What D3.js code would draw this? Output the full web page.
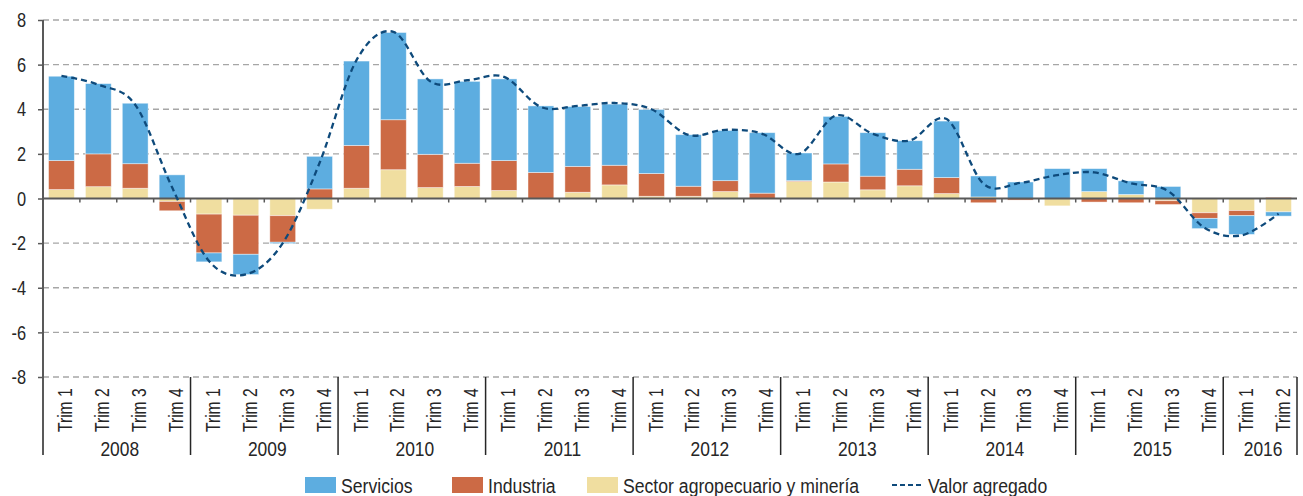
<!DOCTYPE html>
<html>
<head>
<meta charset="utf-8">
<script src="https://cdn.jsdelivr.net/npm/d3@7"></script>
<style>
  body { margin: 0; background: #fff; }
  svg text { font-family: 'Liberation Sans Narrow', 'Arial Narrow', 'Liberation Sans', sans-serif; fill: #262626; }
</style>
</head>
<body>
<div id="chart"></div>
<script>
const years = ["2008", "2009", "2010", "2011", "2012", "2013", "2014", "2015", "2016"];
const quarterLabels = ["Trim 1", "Trim 2", "Trim 3", "Trim 4"];

const servicios = [3.78, 3.15, 2.71, 1.06, -0.40, -0.91, -0.06, 1.46,
                   3.78, 3.91, 3.38, 3.67, 3.66, 2.98, 2.68, 2.74,
                   2.87, 2.31, 2.25, 2.71, 1.24, 2.13, 1.95, 1.28,
                   2.53, 0.94, 0.74, 1.34, 1.03, 0.61, 0.54, -0.46,
                   -0.84, -0.19];
const industria = [1.30, 1.47, 1.10, -0.42, -1.74, -1.75, -1.19, 0.43,
                   1.92, 2.24, 1.49, 1.04, 1.34, 1.17, 1.16, 0.88,
                   1.02, 0.45, 0.49, 0.24, 0.04, 0.81, 0.61, 0.74,
                   0.72, -0.19, -0.07, 0.00, -0.16, -0.19, -0.17, -0.25,
                   -0.23, 0.05];
const agro = [0.40, 0.53, 0.46, -0.13, -0.70, -0.75, -0.77, -0.48,
              0.46, 1.29, 0.49, 0.54, 0.36, 0.00, 0.28, 0.61,
              0.10, 0.10, 0.31, 0.00, 0.76, 0.74, 0.39, 0.57,
              0.22, 0.07, 0.00, -0.33, 0.31, 0.18, -0.10, -0.64,
              -0.54, -0.60];
const valorAgregado = [5.50, 5.10, 4.20, 0.50, -2.80, -3.40, -2.00, 1.60,
                       6.20, 7.47, 5.25, 5.30, 5.45, 4.10, 4.15, 4.28,
                       4.00, 2.85, 3.08, 2.90, 2.00, 3.72, 2.90, 2.60,
                       3.56, 0.66, 0.70, 1.05, 1.17, 0.68, 0.34, -1.32,
                       -1.65, -0.68];
const yTicks = [-8, -6, -4, -2, 0, 2, 4, 6, 8];

const seriesKeys = ["agro", "industria", "servicios"];
const seriesNames = { servicios: "Servicios", industria: "Industria", agro: "Sector agropecuario y minería" };
const colors = { servicios: "#5dade0", industria: "#cc6a45", agro: "#f0dea0" };
const lineColor = "#0e4a7b";

const data = servicios.map((v, i) => ({
    id: i,
    year: years[Math.floor(i / 4)],
    quarter: quarterLabels[i % 4],
    servicios: v,
    industria: industria[i],
    agro: agro[i],
    total: valorAgregado[i]
}));

const width = 1303, height = 496;
const margin = { top: 20, right: 6, bottom: 119, left: 43 };

const svg = d3.select("#chart").append("svg")
    .attr("width", width)
    .attr("height", height);

const x = d3.scaleBand()
    .domain(data.map(d => d.id))
    .range([margin.left, width - margin.right])
    .paddingInner(0.3)
    .paddingOuter(0.15);

const y = d3.scaleLinear()
    .domain([-8, 8])
    .range([height - margin.bottom, margin.top]);

const step = x.step();
const x0 = margin.left, x1 = width - margin.right;

// grid lines
svg.append("g")
    .selectAll("line")
    .data(yTicks.filter(t => t !== 0))
    .enter().append("line")
    .attr("x1", x0)
    .attr("x2", x1)
    .attr("y1", d => y(d))
    .attr("y2", d => y(d))
    .attr("stroke", "#a6a6a6")
    .attr("stroke-width", 1.3)
    .attr("stroke-dasharray", "6,4");

// stacked bars
const stacked = d3.stack().keys(seriesKeys).offset(d3.stackOffsetDiverging)(data);

svg.append("g")
    .selectAll("g")
    .data(stacked)
    .enter().append("g")
    .attr("fill", d => colors[d.key])
    .selectAll("rect")
    .data(d => d)
    .enter().append("rect")
    .attr("x", d => x(d.data.id))
    .attr("y", d => y(Math.max(d[0], d[1])))
    .attr("height", d => Math.abs(y(d[0]) - y(d[1])))
    .attr("width", x.bandwidth())
    .attr("stroke", "rgba(255,255,255,0.55)")
    .attr("stroke-width", 0.8);

// y axis (labels drawn condensed)
const yAxis = svg.append("g")
    .attr("transform", `translate(${x0},0)`)
    .call(d3.axisLeft(y).tickValues(yTicks).tickSize(5).tickFormat(""));
yAxis.select(".domain").remove();
yAxis.selectAll("line").attr("stroke", "#595959").attr("stroke-width", 1.5);

svg.append("g")
    .selectAll("text")
    .data(yTicks)
    .enter().append("text")
    .attr("transform", d => `translate(26,${y(d)}) scale(0.82,1)`)
    .attr("text-anchor", "end")
    .attr("dy", "0.36em")
    .style("font-size", "20px")
    .text(d => String(d));

svg.append("line")
    .attr("x1", x0).attr("x2", x0)
    .attr("y1", margin.top).attr("y2", 455)
    .attr("stroke", "#595959")
    .attr("stroke-width", 2);

// zero line with category ticks
svg.append("line")
    .attr("x1", x0).attr("x2", x1)
    .attr("y1", y(0)).attr("y2", y(0))
    .attr("stroke", "#595959")
    .attr("stroke-width", 2);

svg.append("g")
    .selectAll("line")
    .data(data.slice(1))
    .enter().append("line")
    .attr("x1", d => x(d.id) - step * 0.15)
    .attr("x2", d => x(d.id) - step * 0.15)
    .attr("y1", y(0))
    .attr("y2", y(0) + 4)
    .attr("stroke", "#595959")
    .attr("stroke-width", 1.5);

// valor agregado line
const line = d3.line()
    .x(d => x(d.id) + x.bandwidth() / 2)
    .y(d => y(d.total))
    .curve(d3.curveCardinal.tension(0));

svg.append("path")
    .datum(data)
    .attr("fill", "none")
    .attr("stroke", lineColor)
    .attr("stroke-width", 2.3)
    .attr("stroke-dasharray", "6,4")
    .attr("d", line);

// quarter labels
svg.append("g")
    .selectAll("text")
    .data(data)
    .enter().append("text")
    .attr("transform", d => `translate(${x(d.id) + x.bandwidth() / 2 + 11},432) rotate(-90) scale(0.78,1)`)
    .style("font-size", "20px")
    .text(d => d.quarter);

// year separators and labels
const yearBounds = years.map((yr, i) => {
    const first = i * 4;
    const last = Math.min(first + 3, data.length - 1);
    return { year: yr, left: x(first) - step * 0.15, right: x(last) + x.bandwidth() + step * 0.15 };
});

svg.append("g")
    .selectAll("line")
    .data(yearBounds)
    .enter().append("line")
    .attr("x1", d => d.right)
    .attr("x2", d => d.right)
    .attr("y1", y(-8))
    .attr("y2", 455)
    .attr("stroke", "#262626")
    .attr("stroke-width", 1.5);

svg.append("g")
    .selectAll("text")
    .data(yearBounds)
    .enter().append("text")
    .attr("transform", d => `translate(${(d.left + d.right) / 2 + 3},456) scale(0.87,1)`)
    .attr("text-anchor", "middle")
    .style("font-size", "20px")
    .text(d => d.year);

// legend
const legendItems = [
    { key: "servicios", x: 305 },
    { key: "industria", x: 452 },
    { key: "agro", x: 587 },
    { key: "line", x: 892 }
];

const legend = svg.append("g");
legendItems.forEach(item => {
    if (item.key === "line") {
        legend.append("line")
            .attr("x1", item.x).attr("x2", item.x + 31)
            .attr("y1", 485).attr("y2", 485)
            .attr("stroke", lineColor)
            .attr("stroke-width", 2.2)
            .attr("stroke-dasharray", "5,3");
    } else {
        legend.append("rect")
            .attr("x", item.x).attr("y", 477)
            .attr("width", 31).attr("height", 16)
            .attr("fill", colors[item.key]);
    }
    legend.append("text")
        .attr("transform", `translate(${item.x + 36},493) scale(0.84,1)`)
        .style("font-size", "21px")
        .text(item.key === "line" ? "Valor agregado" : seriesNames[item.key]);
});
</script>
</body>
</html>
